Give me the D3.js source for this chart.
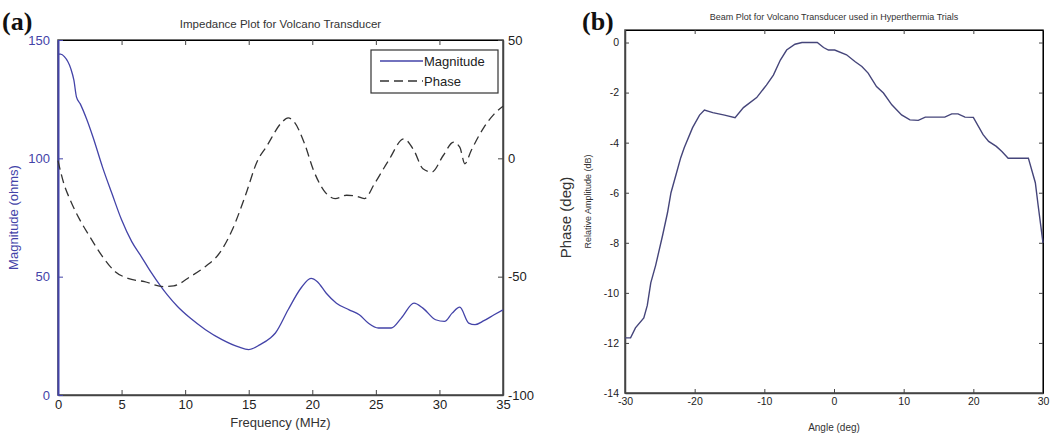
<!DOCTYPE html>
<html>
<head>
<meta charset="utf-8">
<script src="https://cdn.jsdelivr.net/npm/d3@7"></script>
<style>
  body { margin: 0; background: #fff; }
  svg { display: block; font-family: "Liberation Sans", Arial, sans-serif; }
</style>
</head>
<body>
<svg id="chart" width="1050" height="439"></svg>
<script>
// ---- data ----
// panel (a): impedance
var magFreq = [0, 0.2, 0.5, 1.0, 1.25, 1.45, 1.75, 2.25, 2.75, 3.5, 4.25, 5.0, 5.8, 6.55, 7.3, 8.1, 8.6, 9.4, 10.4, 11.6, 12.9, 14.2, 15.0, 15.9, 16.7, 17.1, 18.1, 19.1, 19.9, 20.4, 21.1, 21.9, 22.9, 23.7, 24.4, 25.2, 26.2, 27.0, 28.0, 28.7, 29.7, 30.4, 31.0, 31.6, 32.3, 32.8, 33.5, 34.3, 35.0];
var magnitude = [144, 144, 143, 138, 133, 126, 123, 116.6, 109, 96.3, 85, 74, 64.8, 58.5, 52, 45.8, 42.3, 37.4, 32.5, 27.6, 23.4, 20.3, 19.2, 21.3, 24.1, 26.2, 36, 45.1, 49.3, 47.9, 43, 38.8, 36, 33.9, 30.4, 28.3, 28.3, 32.5, 38.8, 36.7, 31.8, 31.1, 34.6, 37.1, 30.4, 29.7, 31.4, 33.9, 36];

var phaseFreq = [0, 0.46, 0.97, 1.73, 2.5, 3.5, 4.5, 5.5, 6.8, 8.3, 9.1, 10.4, 11.6, 12.7, 13.7, 14.7, 15.7, 16.4, 17.6, 18.1, 18.6, 19.4, 20.1, 20.9, 21.8, 22.7, 23.4, 24.1, 24.9, 26.0, 27.2, 28.0, 28.7, 29.4, 30.3, 31.1, 31.6, 32.0, 32.5, 33.5, 34.3, 35.0];
var phase = [-1, -10.7, -17.7, -26.1, -33.1, -41.5, -47.9, -50.7, -52.1, -54.2, -53.9, -50, -45.7, -40.1, -30.3, -16.3, -0.9, 5, 15.2, 17.1, 15.2, 6.1, -5.1, -13.5, -17, -15.6, -15.9, -17, -10.7, -0.9, 8.2, 3.3, -4.4, -5.8, 1.2, 6.8, 4.7, -2.3, 3.3, 13.1, 18.7, 22];

var freqTicks = [0, 5, 10, 15, 20, 25, 30, 35];
var magTicks = [0, 50, 100, 150];
var phaseTicks = [-100, -50, 0, 50];

// panel (b): beam plot
var angle = [-30, -29.2, -28.5, -27.3, -26.8, -26.3, -25.6, -24.6, -23.9, -23.4, -22.7, -22.0, -21.5, -20.3, -19.3, -18.6, -17.4, -15.7, -14.2, -13.0, -11.1, -9.7, -8.7, -7.7, -6.8, -5.6, -4.6, -2.4, -1.5, -0.8, 0.1, 1.8, 3.0, 4.0, 4.9, 6.1, 7.1, 8.3, 9.7, 10.9, 12.1, 13.1, 14.5, 15.9, 16.9, 17.8, 18.8, 20.0, 21.4, 22.2, 23.3, 24.1, 25.0, 26.7, 27.9, 28.9, 29.3, 30.0];
var amplitude = [-11.8, -11.8, -11.4, -11.0, -10.5, -9.6, -8.9, -7.7, -6.8, -6.0, -5.3, -4.6, -4.2, -3.4, -2.9, -2.7, -2.8, -2.9, -3.0, -2.6, -2.2, -1.7, -1.3, -0.7, -0.3, -0.07, 0, 0, -0.2, -0.3, -0.3, -0.49, -0.76, -0.96, -1.22, -1.76, -2.02, -2.49, -2.89, -3.09, -3.11, -2.98, -2.98, -2.98, -2.85, -2.85, -2.98, -2.99, -3.68, -3.95, -4.15, -4.35, -4.62, -4.62, -4.62, -5.6, -6.5, -8.0];

var angleTicks = [-30, -20, -10, 0, 10, 20, 30];
var ampTicks = [0, -2, -4, -6, -8, -10, -12, -14];

var svg = d3.select("#chart");
var blue = "#4343a8";
var axisGrey = "#444";
var plain = function (d) { return String(d); }; // hyphen minus, like the original

// ================= panel (a) =================
var a = { left: 58, right: 503, top: 40, bottom: 395 };

var xA = d3.scaleLinear().domain([0, 35]).range([a.left, a.right]);
var yMag = d3.scaleLinear().domain([0, 150]).range([a.bottom, a.top]);
var yPh = d3.scaleLinear().domain([-100, 50]).range([a.bottom, a.top]);

// box
svg.append("rect")
    .attr("x", a.left).attr("y", a.top)
    .attr("width", a.right - a.left).attr("height", a.bottom - a.top)
    .style("fill", "none").style("stroke", axisGrey).style("stroke-width", 1.5);

// bottom axis, ticks inward
var gxA = svg.append("g").attr("transform", "translate(0," + a.bottom + ")")
    .call(d3.axisBottom(xA).tickValues(freqTicks).tickFormat(plain).tickSizeInner(-5).tickSizeOuter(0).tickPadding(5));
// top ticks only
svg.append("g").attr("transform", "translate(0," + a.top + ")")
    .call(d3.axisTop(xA).tickValues(freqTicks).tickSizeInner(-5).tickSizeOuter(0).tickFormat(""))
    .selectAll(".tick line").style("stroke", axisGrey);

// left magnitude axis (blue)
var gMag = svg.append("g").attr("transform", "translate(" + a.left + ",0)")
    .call(d3.axisLeft(yMag).tickValues(magTicks).tickFormat(plain).tickSizeInner(-5).tickSizeOuter(0).tickPadding(8));

// right phase axis
var gPh = svg.append("g").attr("transform", "translate(" + a.right + ",0)")
    .call(d3.axisRight(yPh).tickValues(phaseTicks).tickFormat(plain).tickSizeInner(-5).tickSizeOuter(0).tickPadding(5));

[gxA, gPh].forEach(function (g) {
    g.select(".domain").style("stroke", axisGrey).style("stroke-width", 1.5);
    g.selectAll(".tick line").style("stroke", axisGrey);
    g.selectAll(".tick text").style("font-size", "13px").style("fill", "#222")
        .style("font-family", "Liberation Sans, Arial, sans-serif");
});
gMag.select(".domain").style("stroke", blue).style("stroke-width", 2);
gMag.selectAll(".tick line").style("stroke", blue);
gMag.selectAll(".tick text").style("font-size", "13px").style("fill", blue)
    .style("font-family", "Liberation Sans, Arial, sans-serif");

// curves
var magLine = d3.line()
    .x(function (d, i) { return xA(magFreq[i]); })
    .y(function (d) { return yMag(d); })
    .curve(d3.curveMonotoneX);

var phLine = d3.line()
    .x(function (d, i) { return xA(phaseFreq[i]); })
    .y(function (d) { return yPh(d); })
    .curve(d3.curveMonotoneX);

svg.append("path").datum(magnitude).attr("d", magLine)
    .style("fill", "none").style("stroke", blue).style("stroke-width", 1.3);

svg.append("path").datum(phase).attr("d", phLine)
    .style("fill", "none").style("stroke", "#333").style("stroke-width", 1.3)
    .style("stroke-dasharray", "9,5");

// title and labels
svg.append("text")
    .attr("x", (a.left + a.right) / 2).attr("y", 28)
    .attr("text-anchor", "middle")
    .text("Impedance Plot for Volcano Transducer")
    .style("font-size", "11.5px").style("fill", "#333");

svg.append("text")
    .attr("x", (a.left + a.right) / 2).attr("y", 427)
    .attr("text-anchor", "middle")
    .text("Frequency (MHz)")
    .style("font-size", "13px").style("fill", "#333");

svg.append("text")
    .attr("transform", "translate(18," + ((a.top + a.bottom) / 2) + ") rotate(-90)")
    .attr("text-anchor", "middle")
    .text("Magnitude (ohms)")
    .style("font-size", "13px").style("fill", blue);

svg.append("text")
    .attr("transform", "translate(571," + ((a.top + a.bottom) / 2) + ") rotate(-90)")
    .attr("text-anchor", "middle")
    .text("Phase (deg)")
    .style("font-size", "15px").style("fill", "#333");

svg.append("text")
    .attr("x", 2).attr("y", 30)
    .text("(a)")
    .style("font-family", "Liberation Serif, Times New Roman, serif")
    .style("font-weight", "bold").style("font-size", "26px").style("fill", "#111");

// legend
var leg = svg.append("g");
leg.append("rect")
    .attr("x", 371).attr("y", 50).attr("width", 127).attr("height", 43)
    .style("fill", "#fff").style("stroke", "#333").style("stroke-width", 1.2);
leg.append("line").attr("x1", 380).attr("x2", 423).attr("y1", 61).attr("y2", 61)
    .style("stroke", blue).style("stroke-width", 1.3);
leg.append("line").attr("x1", 380).attr("x2", 423).attr("y1", 81).attr("y2", 81)
    .style("stroke", "#333").style("stroke-width", 1.3).style("stroke-dasharray", "9,5");
leg.append("text").attr("x", 424).attr("y", 61).attr("dy", "0.35em")
    .text("Magnitude").style("font-size", "13px").style("fill", "#222");
leg.append("text").attr("x", 424).attr("y", 81).attr("dy", "0.35em")
    .text("Phase").style("font-size", "13px").style("fill", "#222");

// ================= panel (b) =================
var b = { left: 625, right: 1043, top: 30, bottom: 393 };

var xB = d3.scaleLinear().domain([-30, 30]).range([b.left, b.right]);
var yB = d3.scaleLinear().domain([-14, 0.5]).range([b.bottom, b.top]);

svg.append("rect")
    .attr("x", b.left).attr("y", b.top)
    .attr("width", b.right - b.left).attr("height", b.bottom - b.top)
    .style("fill", "none").style("stroke", axisGrey).style("stroke-width", 1.5);

var gxB = svg.append("g").attr("transform", "translate(0," + b.bottom + ")")
    .call(d3.axisBottom(xB).tickValues(angleTicks).tickFormat(plain).tickSizeInner(-4).tickSizeOuter(0).tickPadding(5));
svg.append("g").attr("transform", "translate(0," + b.top + ")")
    .call(d3.axisTop(xB).tickValues(angleTicks).tickSizeInner(-4).tickSizeOuter(0).tickFormat(""))
    .selectAll(".tick line").style("stroke", axisGrey);
var gyB = svg.append("g").attr("transform", "translate(" + b.left + ",0)")
    .call(d3.axisLeft(yB).tickValues(ampTicks).tickFormat(plain).tickSizeInner(-4).tickSizeOuter(0).tickPadding(6));
svg.append("g").attr("transform", "translate(" + b.right + ",0)")
    .call(d3.axisRight(yB).tickValues(ampTicks).tickSizeInner(-4).tickSizeOuter(0).tickFormat(""))
    .selectAll(".tick line").style("stroke", axisGrey);

[gxB, gyB].forEach(function (g) {
    g.select(".domain").style("stroke", axisGrey).style("stroke-width", 1.5);
    g.selectAll(".tick line").style("stroke", axisGrey);
    g.selectAll(".tick text").style("font-size", "10.5px").style("fill", "#222")
        .style("font-family", "Liberation Sans, Arial, sans-serif");
});

var ampLine = d3.line()
    .x(function (d, i) { return xB(angle[i]); })
    .y(function (d) { return yB(d); });

svg.append("path").datum(amplitude).attr("d", ampLine)
    .style("fill", "none").style("stroke", "#45457a").style("stroke-width", 1.4);

svg.append("text")
    .attr("x", (b.left + b.right) / 2).attr("y", 20)
    .attr("text-anchor", "middle")
    .text("Beam Plot for Volcano Transducer used in Hyperthermia Trials")
    .style("font-size", "9px").style("fill", "#333");

svg.append("text")
    .attr("x", (b.left + b.right) / 2).attr("y", 431)
    .attr("text-anchor", "middle")
    .text("Angle (deg)")
    .style("font-size", "10px").style("fill", "#333");

svg.append("text")
    .attr("transform", "translate(591," + ((b.top + b.bottom) / 2 - 10) + ") rotate(-90)")
    .attr("text-anchor", "middle")
    .text("Relative Amplitude (dB)")
    .style("font-size", "9px").style("fill", "#333");

svg.append("text")
    .attr("x", 582).attr("y", 30)
    .text("(b)")
    .style("font-family", "Liberation Serif, Times New Roman, serif")
    .style("font-weight", "bold").style("font-size", "26px").style("fill", "#111");
</script>
</body>
</html>
